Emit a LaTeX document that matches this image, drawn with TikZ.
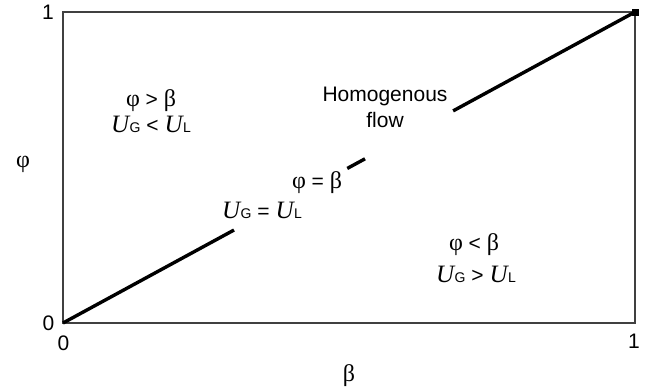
\documentclass[tikz,border=0pt]{standalone}
\usepackage{fontspec}
\setmainfont{Liberation Sans}
\newfontfamily\serifgr{Liberation Serif}
\usetikzlibrary{calc}
\newcommand{\gph}{{\serifgr\fontsize{24}{24}\selectfont φ}}
\newcommand{\gbe}{{\serifgr\fontsize{24}{24}\selectfont β}}
\newcommand{\UU}[1]{{\serifgr\itshape\fontsize{25}{25}\selectfont U}\kern0.5pt{\fontsize{14}{14}\selectfont #1}}
\tikzset{
  lbl/.style={inner sep=0pt, anchor=base, font=\fontsize{21}{26}\selectfont, align=center},
  frame/.style={draw=black!75, line width=1.3pt},
  diag/.style={draw=black, line width=3.4pt},
}
\begin{document}
\begin{tikzpicture}[x=1pt,y=-1pt]
\useasboundingbox (0,0) rectangle (647,389);
\draw[frame] (63,12) rectangle (635,323);
\coordinate (o) at (63,323);
\coordinate (e) at (635,12);
\coordinate (a1) at ($(o)!0.299!(e)$);
\coordinate (a2) at ($(o)!0.497!(e)$);
\coordinate (a3) at ($(o)!0.528!(e)$);
\coordinate (a4) at ($(o)!0.682!(e)$);
\draw[diag] (o) -- (a1);
\draw[diag] (a2) -- (a3);
\draw[diag] (a4) -- (e);
\fill (e) ++(-3.5,-3.5) rectangle ++(7,7);
\node[lbl] (t1) at (48,19) {1};
\node[lbl] (yl) at (23,167) {\gph};
\node[lbl] (y0) at (48.5,330) {0};
\node[lbl] (x0) at (63.5,350) {0};
\node[lbl] (x1) at (634,348) {1};
\node[lbl] (xl) at (349,381) {\gbe};
\node[lbl] (r1a) at (151,106) {\gph\ > \gbe};
\node[lbl] (r1b) at (151,132) {\UU{G} < \UU{L}};
\node[lbl] (hf) at (385,127) {Homogenous\\flow};
\node[lbl] (eqa) at (317,188) {\gph\ = \gbe};
\node[lbl] (eqb) at (262,218) {\UU{G} = \UU{L}};
\node[lbl] (r2a) at (474,250) {\gph\ < \gbe};
\node[lbl] (r2b) at (476,282) {\UU{G} > \UU{L}};
\end{tikzpicture}
\end{document}
